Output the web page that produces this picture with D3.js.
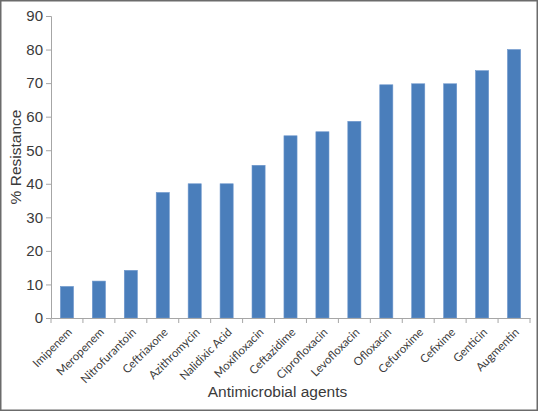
<!DOCTYPE html>
<html><head><meta charset="utf-8">
<script src="https://cdn.jsdelivr.net/npm/d3@7"></script>
<style>body{margin:0;background:#fff}svg{display:block}</style>
</head><body>
<script>
const categories = ["Imipenem","Meropenem","Nitrofurantoin","Ceftriaxone","Azithromycin","Nalidixic Acid","Moxifloxacin","Ceftazidime","Ciprofloxacin","Levofloxacin","Ofloxacin","Cefuroxime","Cefixime","Genticin","Augmentin"];
const values = [9.4, 11.0, 14.2, 37.4, 40.0, 40.0, 45.5, 54.3, 55.5, 58.6, 69.5, 69.8, 69.8, 73.7, 80.0];
const yTicks = [0,10,20,30,40,50,60,70,80,90];

const W = 538, H = 411;
const m = {left: 51, right: 8, top: 16, bottom: 93};
const svg = d3.select("body").append("svg").attr("width", W).attr("height", H);
svg.append("rect").attr("x",0.75).attr("y",0.75).attr("width",W-1.5).attr("height",H-1.5)
  .attr("fill","#fff").attr("stroke","#6b6b6b").attr("stroke-width",1.5);

const x = d3.scaleBand().domain(categories).range([m.left, W - m.right]).paddingInner(0.59).paddingOuter(0.295);
const y = d3.scaleLinear().domain([0,90]).range([H - m.bottom, m.top]);
const axisColor = "#a6a6a6", textColor = "#3a3a3a";
const font = "Liberation Sans, Arial, sans-serif";

svg.append("g").selectAll("rect").data(values).join("rect")
  .attr("x",(d,i)=>x(categories[i])).attr("width",x.bandwidth())
  .attr("y",d=>y(d)).attr("height",d=>y(0)-y(d))
  .attr("fill","#4a7ebb").attr("stroke","#6d96cc").attr("stroke-width",0.6);

// y axis
const ya = svg.append("g").attr("transform",`translate(${m.left},0)`)
  .call(d3.axisLeft(y).tickValues(yTicks).tickSize(5).tickPadding(3));
ya.select(".domain").attr("stroke",axisColor);
ya.selectAll(".tick line").attr("stroke",axisColor);
ya.selectAll("text").attr("fill",textColor).attr("font-size","15px").attr("font-family",font);

// x axis
const xa = svg.append("g").attr("transform",`translate(0,${y(0)})`)
  .call(d3.axisBottom(x).tickSize(0).tickFormat(""));
xa.select(".domain").attr("stroke",axisColor);
const step = x.step();
const bounds = d3.range(categories.length+1).map(i => m.left + i*step);
svg.append("g").selectAll("line").data(bounds).join("line")
  .attr("x1",d=>d).attr("x2",d=>d).attr("y1",y(0)).attr("y2",y(0)+5)
  .attr("stroke",axisColor);

svg.append("g").selectAll("text").data(categories).join("text")
  .attr("transform",d=>`translate(${x(d)+x.bandwidth()/2+3},${y(0)+12}) rotate(-45)`)
  .attr("text-anchor","end").attr("dy","0.35em")
  .attr("fill",textColor).attr("font-size","11.5px").attr("font-family","Lato, 'Open Sans', sans-serif").text(d=>d);

svg.append("text").attr("x",277.5).attr("y",397).attr("text-anchor","middle")
  .attr("fill",textColor).attr("font-size","15.5px").attr("font-family",font).text("Antimicrobial agents");
svg.append("text").attr("transform","translate(21,157) rotate(-90)").attr("text-anchor","middle")
  .attr("fill",textColor).attr("font-size","15.5px").attr("font-family",font).text("% Resistance");
</script>
</body></html>
